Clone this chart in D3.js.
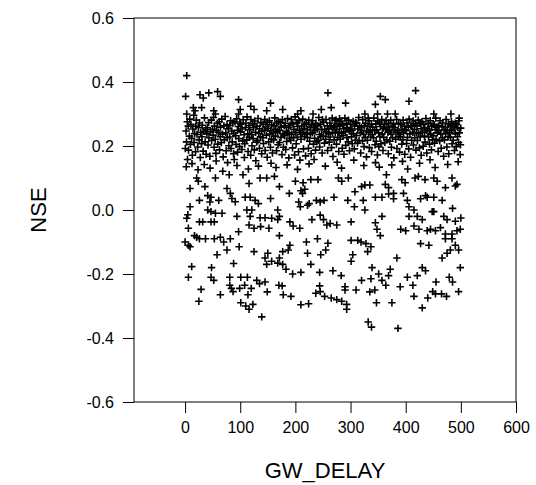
<!DOCTYPE html>
<html>
<head>
<meta charset="utf-8">
<script src="https://cdn.jsdelivr.net/npm/d3@7"></script>
<style>
  body { margin: 0; background: #fff; }
  svg { display: block; }
  text { font-family: "Liberation Sans", Arial, sans-serif; fill: #000; }
</style>
</head>
<body>
<div id="chart"></div>
<script>
// tick values
const xTicks = [0, 100, 200, 300, 400, 500, 600];
const yTicks = [0.6, 0.4, 0.2, 0.0, -0.2, -0.4, -0.6];

// points above the dense band
const topPts = [
  [3,0.42],[1,0.355],[27,0.36],[33,0.35],[43,0.366],[59,0.37],[64,0.355],[97,0.345],[155,0.334],
  [15,0.32],[30,0.32],[3,0.30],[18,0.31],[52,0.31],[55,0.30],[100,0.314],[97,0.30],[119,0.324],
  [125,0.314],[148,0.31],[259,0.366],[291,0.334],[177,0.314],[204,0.30],[210,0.31],[232,0.30],
  [247,0.314],[265,0.32],[272,0.28],[280,0.285],[326,0.30],[332,0.287],[418,0.373],[406,0.34],
  [354,0.355],[363,0.345],[345,0.33],[349,0.30],[367,0.30],[381,0.30],[418,0.30],[451,0.30],
  [482,0.30],[497,0.287]
];

// dense band, ~0.12 to 0.29
const bandPts = [
  [0.5,0.192],[1.8,0.247],[2.6,0.213],[3.9,0.276],[4.4,0.158],[5.7,0.262],[6.3,0.187],[7.8,0.231],[8.5,0.284],[9.6,0.205],[2.2,0.135],
  [10.7,0.268],[11.9,0.224],[13.2,0.171],[14.1,0.253],[15.8,0.296],[16.4,0.211],[17.3,0.239],[18.9,0.182],[19.5,0.262],[12.6,0.145],
  [20.4,0.281],[21.7,0.236],[22.9,0.197],[24.2,0.258],[25.5,0.219],[26.1,0.272],[27.6,0.164],[28.3,0.243],[29.8,0.207],[23.5,0.126],
  [30.6,0.229],[31.3,0.265],[32.8,0.184],[33.9,0.246],[35.2,0.288],[36.4,0.213],[37.7,0.251],[38.1,0.174],[39.5,0.238],[34.8,0.142],
  [40.3,0.257],[41.6,0.203],[42.8,0.273],[43.4,0.226],[44.9,0.168],[46.2,0.244],[47.5,0.281],[48.1,0.217],[49.7,0.252],[45.3,0.131],
  [50.8,0.234],[51.5,0.289],[52.7,0.196],[53.3,0.262],[54.6,0.221],[55.9,0.177],[57.1,0.248],[58.4,0.271],[59.2,0.206],[56.4,0.153],
  [60.2,0.243],[61.9,0.276],[62.5,0.188],[63.7,0.229],[64.3,0.259],[65.8,0.211],[66.6,0.284],[67.9,0.237],[69.1,0.166],[68.3,0.121],
  [70.4,0.263],[71.2,0.219],[72.7,0.292],[73.8,0.241],[74.5,0.185],[75.9,0.267],[76.6,0.226],[78.2,0.254],[79.4,0.201],[77.1,0.148],
  [80.9,0.228],[81.4,0.264],[82.6,0.279],[83.3,0.192],[84.8,0.247],[85.5,0.213],[86.7,0.272],[87.9,0.176],[88.6,0.239],[89.2,0.158],
  [90.5,0.276],[91.8,0.232],[92.3,0.205],[93.6,0.285],[94.9,0.249],[95.2,0.181],[96.7,0.261],[97.4,0.223],[98.8,0.198],[99.3,0.271],[94.1,0.139],
  [100.6,0.244],[101.2,0.268],[102.9,0.189],[103.4,0.253],[104.7,0.216],[105.3,0.282],[106.8,0.235],[107.5,0.164],[108.2,0.207],[109.6,0.258],
  [110.3,0.272],[111.9,0.219],[112.4,0.291],[113.7,0.238],[114.2,0.183],[115.8,0.264],[116.5,0.227],[117.3,0.251],[118.9,0.171],[119.4,0.283],[114.8,0.128],
  [120.7,0.236],[121.3,0.201],[122.8,0.269],[123.5,0.223],[124.1,0.257],[125.6,0.188],[126.4,0.278],[127.9,0.243],[128.2,0.154],[129.7,0.212],
  [130.4,0.262],[131.8,0.217],[132.3,0.286],[133.6,0.239],[134.9,0.193],[135.2,0.254],[136.7,0.229],[137.5,0.273],[138.8,0.176],[139.3,0.246],[133.1,0.137],
  [140.9,0.226],[141.6,0.268],[142.2,0.208],[143.8,0.249],[144.5,0.283],[145.1,0.186],[146.7,0.261],[147.4,0.234],[148.9,0.165],[149.3,0.274],
  [150.2,0.255],[151.6,0.213],[152.9,0.279],[153.3,0.237],[154.7,0.196],[155.5,0.248],[156.8,0.222],[157.1,0.266],[158.4,0.178],[159.9,0.241],[155.9,0.146],
  [160.6,0.219],[161.2,0.263],[162.7,0.288],[163.9,0.231],[164.4,0.252],[165.8,0.185],[166.3,0.272],[167.7,0.244],[168.5,0.204],[169.1,0.276],[164.9,0.133],
  [170.8,0.249],[171.3,0.211],[172.5,0.274],[173.9,0.227],[174.2,0.259],[175.7,0.173],[176.4,0.282],[177.6,0.238],[178.3,0.196],[179.8,0.263],
  [180.5,0.232],[181.9,0.271],[182.4,0.189],[183.6,0.246],[184.2,0.214],[185.8,0.286],[186.3,0.241],[187.7,0.258],[188.1,0.163],[189.4,0.225],[184.9,0.141],
  [190.3,0.264],[191.7,0.218],[192.6,0.283],[193.2,0.237],[194.8,0.194],[195.4,0.269],[196.9,0.226],[197.3,0.252],[198.6,0.172],[199.5,0.291],
  [200.9,0.243],[201.4,0.207],[202.8,0.273],[203.5,0.228],[204.1,0.261],[205.7,0.182],[206.3,0.279],[207.6,0.249],[208.2,0.156],[209.8,0.236],[203.9,0.127],
  [210.2,0.221],[211.6,0.262],[212.9,0.242],[213.3,0.284],[214.7,0.191],[215.4,0.254],[216.8,0.229],[217.1,0.268],[218.5,0.169],[219.9,0.237],
  [220.4,0.272],[221.8,0.226],[222.3,0.251],[223.7,0.193],[224.2,0.281],[225.9,0.215],[226.5,0.259],[227.1,0.238],[228.6,0.176],[229.3,0.266],[224.8,0.144],
  [230.7,0.241],[231.2,0.279],[232.8,0.206],[233.4,0.257],[234.9,0.224],[235.3,0.248],[236.6,0.187],[237.2,0.271],[238.9,0.213],[239.5,0.253],[233.9,0.158],
  [240.3,0.263],[241.9,0.218],[242.4,0.289],[243.7,0.236],[244.1,0.197],[245.6,0.268],[246.2,0.229],[247.8,0.251],[248.5,0.178],[249.1,0.282],
  [250.6,0.231],[251.2,0.274],[252.7,0.209],[253.3,0.252],[254.9,0.221],[255.5,0.283],[256.1,0.244],[257.8,0.263],[258.4,0.186],[259.7,0.238],[254.3,0.137],
  [260.8,0.254],[261.3,0.212],[262.6,0.272],[263.2,0.228],[264.9,0.261],[265.5,0.195],[266.7,0.287],[267.4,0.243],[268.1,0.167],[269.6,0.259],
  [270.3,0.219],[271.7,0.264],[272.2,0.241],[273.9,0.281],[274.5,0.206],[275.1,0.252],[276.8,0.227],[277.4,0.269],[278.6,0.183],[279.2,0.243],[275.8,0.149],
  [280.5,0.262],[281.2,0.221],[282.8,0.278],[283.4,0.239],[284.9,0.193],[285.6,0.266],[286.3,0.232],[287.7,0.254],[288.1,0.174],[289.8,0.287],[283.7,0.131],
  [290.7,0.244],[291.4,0.202],[292.9,0.271],[293.5,0.226],[294.2,0.258],[295.8,0.213],[296.3,0.281],[297.6,0.247],[298.1,0.185],[299.7,0.253],
  [300.2,0.268],[301.8,0.229],[302.5,0.249],[303.1,0.207],[304.7,0.277],[305.4,0.238],[306.9,0.191],[307.3,0.262],[308.6,0.218],[309.2,0.273],[305.9,0.156],
  [310.8,0.233],[311.3,0.271],[312.6,0.209],[313.2,0.253],[314.9,0.289],[315.5,0.217],[316.1,0.262],[317.7,0.241],[318.4,0.178],[319.9,0.258],
  [320.3,0.249],[321.7,0.216],[322.2,0.282],[323.8,0.236],[324.5,0.198],[325.1,0.263],[326.6,0.227],[327.4,0.271],[328.9,0.166],[329.3,0.247],[324.1,0.139],
  [330.6,0.218],[331.2,0.262],[332.9,0.243],[333.5,0.279],[334.1,0.195],[335.7,0.251],[336.4,0.228],[337.8,0.268],[338.2,0.183],[339.6,0.236],
  [340.1,0.259],[341.7,0.226],[342.3,0.287],[343.8,0.248],[344.4,0.204],[345.9,0.269],[346.5,0.215],[347.2,0.251],[348.7,0.172],[349.3,0.278],[345.2,0.148],
  [350.8,0.241],[351.4,0.198],[352.9,0.272],[353.2,0.229],[354.6,0.261],[355.1,0.207],[356.7,0.283],[357.3,0.238],[358.8,0.186],[359.5,0.256],[352.1,0.134],
  [360.2,0.227],[361.6,0.268],[362.3,0.211],[363.9,0.252],[364.4,0.279],[365.7,0.219],[366.1,0.257],[367.8,0.243],[368.5,0.176],[369.2,0.271],
  [370.7,0.248],[371.3,0.215],[372.8,0.281],[373.4,0.237],[374.1,0.196],[375.6,0.262],[376.2,0.226],[377.9,0.269],[378.5,0.163],[379.1,0.251],[374.8,0.141],
  [380.4,0.258],[381.8,0.221],[382.3,0.243],[383.6,0.283],[384.2,0.192],[385.9,0.249],[386.7,0.229],[387.3,0.271],[388.8,0.181],[389.5,0.236],
  [390.6,0.229],[391.2,0.268],[392.8,0.206],[393.3,0.253],[394.9,0.219],[395.4,0.281],[396.1,0.241],[397.7,0.262],[398.3,0.174],[399.8,0.248],[394.2,0.152],
  [400.3,0.251],[401.7,0.208],[402.4,0.272],[403.1,0.227],[404.8,0.259],[405.5,0.191],[406.2,0.284],[407.6,0.238],[408.9,0.165],[409.4,0.263],[403.6,0.128],
  [410.8,0.218],[411.3,0.262],[412.9,0.243],[413.5,0.278],[414.1,0.203],[415.7,0.252],[416.4,0.226],[417.2,0.269],[418.6,0.187],[419.9,0.241],
  [420.5,0.263],[421.2,0.217],[422.8,0.281],[423.4,0.239],[424.9,0.194],[425.6,0.272],[426.3,0.228],[427.7,0.254],[428.1,0.171],[429.5,0.276],[425.1,0.146],
  [430.2,0.243],[431.8,0.199],[432.3,0.268],[433.9,0.231],[434.6,0.257],[435.1,0.212],[436.7,0.286],[437.4,0.248],[438.2,0.178],[439.6,0.253],
  [440.7,0.271],[441.4,0.228],[442.9,0.249],[443.2,0.206],[444.6,0.279],[445.3,0.237],[446.8,0.188],[447.1,0.262],[448.5,0.219],[449.9,0.268],[444.1,0.157],
  [450.4,0.232],[451.9,0.266],[452.2,0.209],[453.8,0.251],[454.5,0.287],[455.1,0.221],[456.7,0.259],[457.3,0.241],[458.9,0.183],[459.6,0.263],[453.3,0.133],
  [460.2,0.248],[461.7,0.216],[462.3,0.279],[463.8,0.237],[464.4,0.193],[465.9,0.261],[466.6,0.226],[467.1,0.272],[468.8,0.168],[469.5,0.251],
  [470.3,0.219],[471.8,0.258],[472.6,0.239],[473.2,0.283],[474.7,0.197],[475.4,0.248],[476.9,0.229],[477.5,0.269],[478.1,0.176],[479.7,0.242],[476.2,0.142],
  [480.6,0.262],[481.2,0.227],[482.9,0.276],[483.5,0.249],[484.1,0.207],[485.7,0.268],[486.3,0.218],[487.8,0.253],[488.4,0.186],[489.9,0.271],
  [490.2,0.238],[491.6,0.198],[492.3,0.267],[493.8,0.229],[494.4,0.258],[495.9,0.211],[496.5,0.279],[497.2,0.241],[498.7,0.173],[499.8,0.256],[495.1,0.151],[499.3,0.204]
];

// scattered points between 0.11 and -0.22
const midPts = [
  [21,0.10],[24,0.09],[55,0.10],[80,0.11],[105,0.11],[116,0.083],[136,0.10],[148,0.10],[162,0.105],[9,0.067],
  [36,0.073],[76,0.067],[26,0.03],[41,0.045],[47,0.04],[45,0.025],[61,0.03],[82,0.052],[85,0.036],[91,0.026],
  [109,0.04],[118,0.04],[127,0.03],[133,0.02],[155,0.036],[9,0.01],[41,0.0],[47,-0.005],[55,-0.01],[67,-0.01],
  [94,-0.02],[112,0.0],[121,0.0],[118,-0.02],[136,-0.024],[145,-0.024],[157,-0.026],[3,-0.026],[5,-0.015],[26,-0.037],
  [32,-0.037],[47,-0.037],[53,-0.037],[116,-0.047],[125,-0.057],[137,-0.052],[152,-0.057],[6,-0.057],[97,-0.068],[17,-0.08],
  [21,-0.085],[26,-0.09],[37,-0.09],[53,-0.09],[64,-0.085],[70,-0.1],[82,-0.09],[0,-0.1],[6,-0.11],[9,-0.115],
  [76,-0.125],[98,-0.115],[125,-0.13],[150,-0.135],[145,-0.15],[157,-0.16],[148,-0.17],[58,-0.14],[48,-0.18],[47,-0.21],
  [52,-0.22],[88,-0.167],[12,-0.177],[6,-0.21],[81,-0.21],[101,-0.21],[113,-0.21],[130,-0.22],[145,-0.225],
  [171,0.073],[189,0.052],[200,0.09],[214,0.085],[217,0.065],[228,0.095],[241,0.095],[210,0.06],[213,0.052],[278,0.1],
  [284,0.09],[296,0.1],[320,0.073],[326,0.078],[335,0.078],[308,0.057],[206,0.025],[209,0.01],[222,0.015],[225,0.02],
  [238,0.03],[245,0.025],[252,0.03],[270,0.04],[295,0.03],[307,0.01],[323,0.03],[326,0.0],[168,0.0],[171,-0.02],
  [168,-0.03],[190,-0.037],[196,-0.05],[208,-0.057],[230,-0.03],[245,-0.016],[251,-0.03],[257,-0.047],[263,-0.042],[275,-0.047],
  [301,-0.037],[171,-0.08],[220,-0.1],[240,-0.09],[259,-0.104],[301,-0.095],[313,-0.095],[319,-0.1],[328,-0.105],[331,-0.13],
  [337,-0.115],[177,-0.13],[171,-0.15],[168,-0.166],[190,-0.11],[187,-0.125],[222,-0.135],[246,-0.14],[255,-0.125],[304,-0.14],
  [301,-0.16],[177,-0.17],[183,-0.185],[195,-0.2],[210,-0.195],[228,-0.17],[244,-0.195],[268,-0.19],[283,-0.205],[320,-0.22],
  [337,-0.215],[339,-0.18],
  [365,0.11],[363,0.08],[369,0.07],[393,0.095],[399,0.085],[417,0.1],[423,0.105],[435,0.095],[451,0.1],[457,0.09],
  [472,0.07],[484,0.1],[490,0.075],[493,0.08],[345,0.04],[357,0.04],[369,0.05],[378,0.052],[378,0.035],[396,0.052],
  [403,0.03],[406,0.01],[415,0.0],[427,0.035],[436,0.045],[439,0.04],[451,0.04],[466,0.03],[485,0.005],[357,-0.02],
  [345,-0.04],[348,-0.06],[354,-0.08],[406,-0.02],[421,-0.02],[430,-0.03],[448,-0.005],[451,-0.005],[469,-0.02],[475,-0.03],
  [490,-0.035],[500,-0.025],[391,-0.06],[400,-0.065],[415,-0.05],[424,-0.06],[439,-0.065],[445,-0.06],[454,-0.065],[463,-0.055],
  [472,-0.075],[484,-0.075],[493,-0.065],[499,-0.06],[427,-0.105],[442,-0.11],[472,-0.09],[484,-0.09],[490,-0.11],[481,-0.125],
  [475,-0.135],[384,-0.15],[466,-0.15],[499,-0.18],[496,-0.125],[430,-0.18],[436,-0.19],[421,-0.205],[403,-0.21],[369,-0.205],
  [372,-0.185],[351,-0.2],[357,-0.22],[479,-0.21]
];

// lowest points
const lowPts = [
  [29,-0.248],[25,-0.285],[64,-0.265],[81,-0.235],[84,-0.245],[87,-0.255],[99,-0.245],[108,-0.235],[120,-0.245],[114,-0.265],
  [101,-0.29],[110,-0.3],[116,-0.31],[123,-0.295],[139,-0.334],[149,-0.256],[135,-0.23],
  [170,-0.235],[176,-0.237],[178,-0.265],[192,-0.27],[210,-0.296],[224,-0.293],[244,-0.237],[237,-0.26],[245,-0.255],
  [253,-0.27],[265,-0.275],[275,-0.28],[284,-0.285],[293,-0.295],[293,-0.31],[290,-0.24],[290,-0.25],[310,-0.25],[335,-0.256],
  [332,-0.35],[338,-0.366],
  [344,-0.25],[347,-0.29],[364,-0.235],[390,-0.24],[413,-0.235],[375,-0.29],[415,-0.27],[430,-0.306],[440,-0.275],[449,-0.255],
  [454,-0.262],[465,-0.262],[474,-0.27],[496,-0.255],[455,-0.225],[485,-0.225],[386,-0.37]
];

const allPts = topPts.concat(bandPts, midPts, lowPts);

const width = 536, height = 485;
const margin = { top: 18, right: 20, bottom: 83, left: 134 };
const plotW = width - margin.left - margin.right;
const plotH = height - margin.top - margin.bottom;

const svg = d3.select('#chart').append('svg')
    .attr('width', width)
    .attr('height', height);

const plot = svg.append('g')
    .attr('transform', `translate(${margin.left},${margin.top})`);

const x = d3.scaleLinear().domain([-92.6, 600]).range([0, plotW]);
const y = d3.scaleLinear().domain([-0.6, 0.6]).range([plotH, 0]);

// frame
plot.append('rect')
    .attr('width', plotW)
    .attr('height', plotH)
    .attr('fill', 'none')
    .attr('stroke', '#000')
    .attr('stroke-width', 1);

const fmtY = d => d3.format('.1f')(d).replace('\u2212', '-');

const xAxis = plot.append('g')
    .attr('transform', `translate(0,${plotH})`)
    .call(d3.axisBottom(x).tickValues(xTicks).tickSize(11).tickPadding(9).tickSizeOuter(0));

const yAxis = plot.append('g')
    .call(d3.axisLeft(y).tickValues(yTicks).tickFormat(fmtY).tickSize(11).tickPadding(9).tickSizeOuter(0));

[xAxis, yAxis].forEach(a => {
    a.select('.domain').remove();
    a.selectAll('line').attr('stroke', '#000');
    a.selectAll('text').style('font-size', '16px').style('font-family', '"Liberation Sans", Arial, sans-serif');
});

// points as "+" marks
plot.append('g')
    .selectAll('path')
    .data(allPts)
    .enter()
    .append('path')
    .attr('transform', d => `translate(${x(d[0])},${y(d[1])})`)
    .attr('d', 'M-3.7,0H3.7M0,-3.7V3.7')
    .attr('stroke', '#000')
    .attr('stroke-width', 1.6)
    .attr('fill', 'none');

// axis titles
svg.append('text')
    .attr('x', margin.left + plotW / 2)
    .attr('y', 478)
    .attr('text-anchor', 'middle')
    .style('font-size', '22px')
    .text('GW_DELAY');

svg.append('text')
    .attr('transform', `translate(46,${margin.top + plotH / 2}) rotate(-90)`)
    .attr('text-anchor', 'middle')
    .style('font-size', '22px')
    .text('NSE');
</script>
</body>
</html>
